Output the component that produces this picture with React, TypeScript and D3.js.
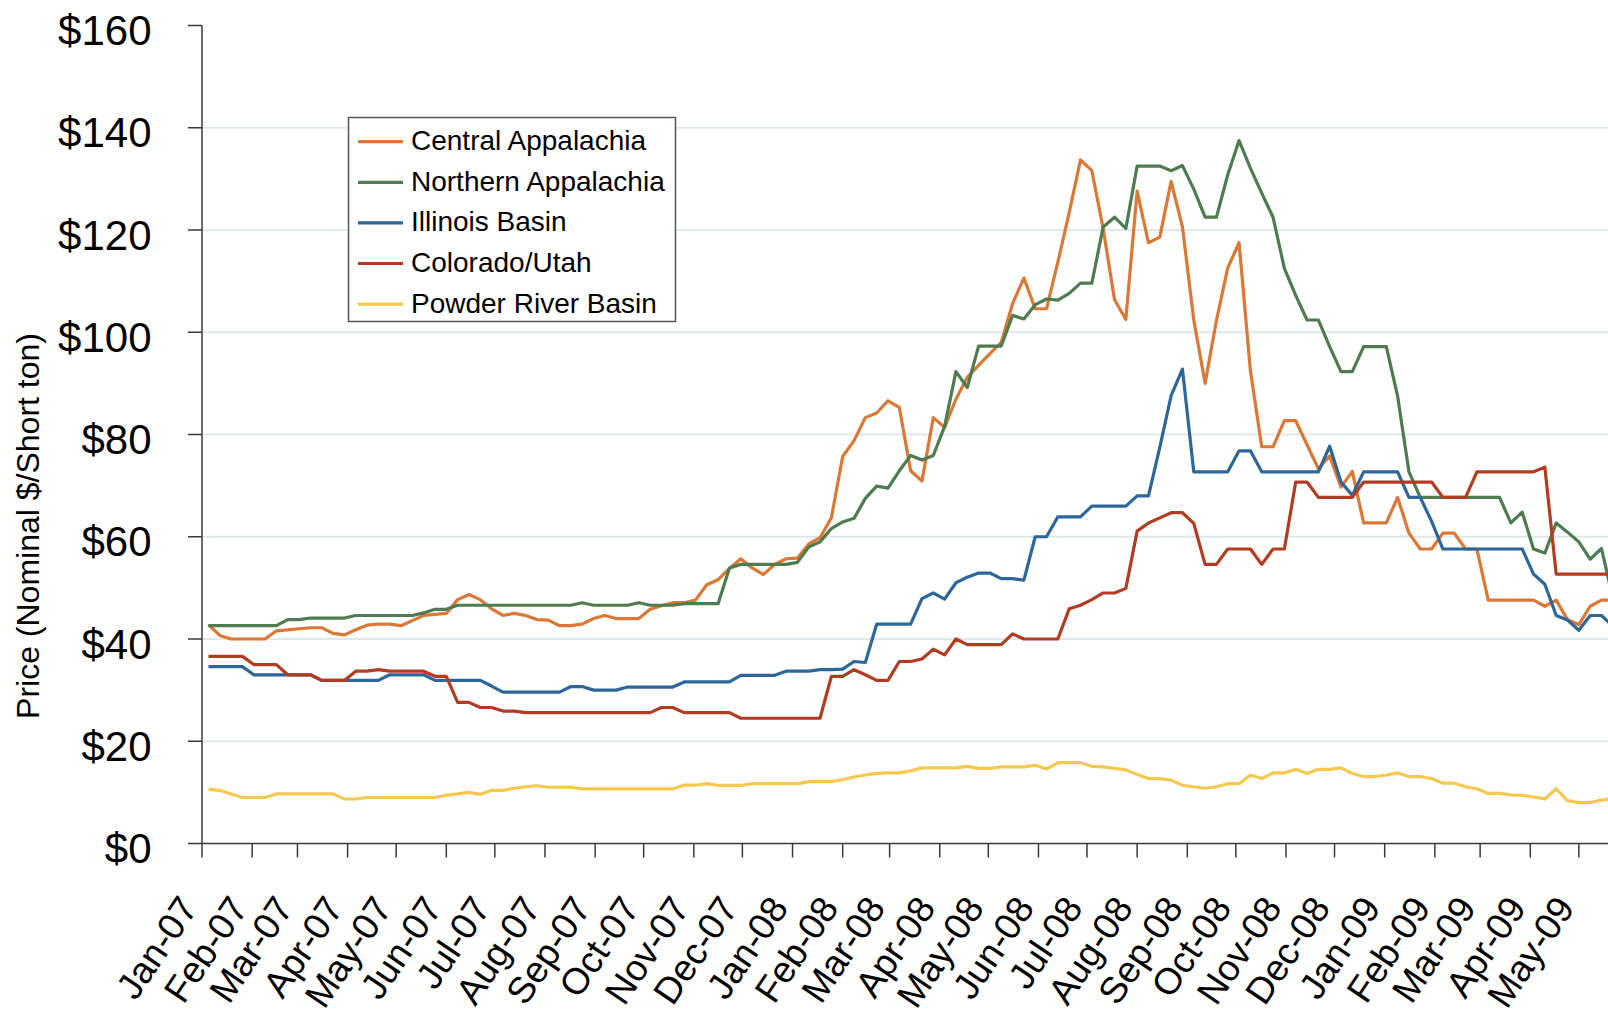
import React, { useEffect, useRef } from "react";
import * as d3 from "d3";

// weekly spot prices, week ending Fridays from 5 Jan 2007
const firstWeek = Date.UTC(2007, 0, 5);

const seriesNames = [
  "Central Appalachia",
  "Northern Appalachia",
  "Illinois Basin",
  "Colorado/Utah",
  "Powder River Basin",
];
const seriesColors = ["#DC7835", "#4E7B4F", "#2D6699", "#B23B22", "#F5C84F"];

const centralAppalachia = [
  42.8, 40.7, 40.0, 40.0, 40.0, 40.0, 41.6, 41.8, 42.0, 42.2,
  42.2, 41.1, 40.8, 41.8, 42.7, 42.9, 42.9, 42.6, 43.6, 44.6,
  44.8, 45.0, 47.7, 48.7, 47.7, 45.9, 44.6, 45.0, 44.6, 43.8,
  43.7, 42.6, 42.6, 42.9, 44.0, 44.6, 44.0, 44.0, 44.0, 45.8,
  46.5, 47.1, 47.1, 47.6, 50.6, 51.6, 53.8, 55.7, 53.9, 52.6,
  54.6, 55.7, 55.8, 58.6, 59.8, 63.7, 75.7, 78.8, 83.3, 84.2,
  86.6, 85.3, 72.9, 70.9, 83.3, 81.4, 86.9, 91.2, 93.5, 95.8,
  98.0, 105.6, 110.6, 104.6, 104.6, 113.7, 123.4, 133.7, 131.6, 120.3,
  106.4, 102.5, 127.6, 117.5, 118.6, 129.5, 120.6, 102.4, 90.0, 102.3,
  112.6, 117.5, 92.5, 77.6, 77.6, 82.7, 82.7, 78.0, 73.3, 75.8,
  69.7, 72.8, 62.7, 62.7, 62.7, 67.7, 60.7, 57.6, 57.6, 60.7,
  60.7, 57.6, 57.6, 47.6, 47.6, 47.6, 47.6, 47.6, 46.4, 47.6,
  43.8, 42.8, 46.4, 47.6, 47.6,
];

const northernAppalachia = [
  42.6, 42.6, 42.6, 42.6, 42.6, 42.6, 42.6, 43.8, 43.8, 44.1,
  44.1, 44.1, 44.1, 44.6, 44.6, 44.6, 44.6, 44.6, 44.6, 45.1,
  45.8, 45.8, 46.6, 46.6, 46.6, 46.6, 46.6, 46.6, 46.6, 46.6,
  46.6, 46.6, 46.6, 47.1, 46.6, 46.6, 46.6, 46.6, 47.1, 46.6,
  46.6, 46.6, 46.9, 46.9, 46.9, 46.9, 53.9, 54.6, 54.6, 54.6,
  54.6, 54.6, 55.0, 58.0, 59.0, 61.6, 62.9, 63.6, 67.5, 69.9,
  69.5, 72.9, 75.9, 75.0, 75.9, 81.6, 92.3, 89.2, 97.3, 97.3,
  97.3, 103.3, 102.6, 105.4, 106.5, 106.3, 107.6, 109.6, 109.6, 120.6,
  122.5, 120.3, 132.5, 132.5, 132.5, 131.6, 132.6, 128.0, 122.5, 122.5,
  130.8, 137.5, 132.1, 127.2, 122.5, 112.5, 107.2, 102.4, 102.4, 97.2,
  92.3, 92.3, 97.2, 97.2, 97.2, 87.5, 72.7, 67.7, 67.7, 67.7,
  67.7, 67.7, 67.7, 67.7, 67.7, 62.7, 64.8, 57.6, 56.8, 62.7,
  60.9, 59.0, 55.6, 57.7, 48.0,
];

const illinoisBasin = [
  34.6, 34.6, 34.6, 34.6, 33.0, 33.0, 33.0, 33.0, 33.0, 33.0,
  31.9, 31.9, 31.9, 31.9, 31.9, 31.9, 33.0, 33.0, 33.0, 33.0,
  31.9, 31.9, 31.9, 31.9, 31.9, 30.8, 29.6, 29.6, 29.6, 29.6,
  29.6, 29.6, 30.7, 30.7, 30.0, 30.0, 30.0, 30.6, 30.6, 30.6,
  30.6, 30.6, 31.6, 31.6, 31.6, 31.6, 31.6, 32.9, 32.9, 32.9,
  32.9, 33.7, 33.7, 33.7, 34.0, 34.0, 34.1, 35.6, 35.4, 42.9,
  42.9, 42.9, 42.9, 47.9, 49.0, 47.8, 51.0, 52.1, 52.9, 52.9,
  51.8, 51.8, 51.5, 60.0, 60.0, 63.9, 63.9, 63.9, 66.0, 66.0,
  66.0, 66.0, 68.0, 68.0, 77.5, 87.6, 92.8, 72.7, 72.7, 72.7,
  72.7, 76.8, 76.8, 72.7, 72.7, 72.7, 72.7, 72.7, 72.7, 77.7,
  70.7, 68.1, 72.7, 72.7, 72.7, 72.7, 67.7, 67.7, 63.0, 57.6,
  57.6, 57.6, 57.6, 57.6, 57.6, 57.6, 57.6, 52.7, 50.7, 44.6,
  43.7, 41.7, 44.6, 44.6, 42.5,
];

const coloradoUtah = [
  36.6, 36.6, 36.6, 36.6, 35.0, 35.0, 35.0, 33.0, 33.0, 33.0,
  31.9, 31.9, 31.9, 33.7, 33.7, 34.0, 33.7, 33.7, 33.7, 33.7,
  32.7, 32.7, 27.6, 27.6, 26.6, 26.6, 25.9, 25.9, 25.6, 25.6,
  25.6, 25.6, 25.6, 25.6, 25.6, 25.6, 25.6, 25.6, 25.6, 25.6,
  26.6, 26.6, 25.6, 25.6, 25.6, 25.6, 25.6, 24.5, 24.5, 24.5,
  24.5, 24.5, 24.5, 24.5, 24.5, 32.7, 32.7, 34.0, 33.0, 31.9,
  31.9, 35.6, 35.6, 36.1, 38.0, 36.9, 40.0, 38.9, 38.9, 38.9,
  38.9, 41.0, 40.0, 40.0, 40.0, 40.0, 45.9, 46.6, 47.7, 49.0,
  49.0, 49.9, 61.1, 62.7, 63.7, 64.7, 64.7, 62.6, 54.6, 54.6,
  57.6, 57.6, 57.6, 54.6, 57.6, 57.6, 70.7, 70.7, 67.7, 67.7,
  67.7, 67.7, 70.7, 70.7, 70.7, 70.7, 70.7, 70.7, 70.7, 67.7,
  67.7, 67.7, 72.7, 72.7, 72.7, 72.7, 72.7, 72.7, 73.6, 52.7,
  52.7, 52.7, 52.7, 52.7, 52.7,
];

const powderRiverBasin = [
  10.6, 10.4, 9.7, 9.0, 9.0, 9.0, 9.7, 9.7, 9.7, 9.7,
  9.7, 9.7, 8.7, 8.7, 9.0, 9.0, 9.0, 9.0, 9.0, 9.0,
  9.0, 9.4, 9.7, 10.0, 9.6, 10.4, 10.4, 10.8, 11.1, 11.3,
  11.0, 11.0, 11.0, 10.7, 10.7, 10.7, 10.7, 10.7, 10.7, 10.7,
  10.7, 10.7, 11.4, 11.4, 11.7, 11.35, 11.35, 11.35, 11.7, 11.7,
  11.7, 11.7, 11.7, 12.1, 12.1, 12.1, 12.5, 13.0, 13.4, 13.7,
  13.8, 13.8, 14.2, 14.8, 14.8, 14.8, 14.8, 15.1, 14.7, 14.7,
  15.0, 15.0, 15.0, 15.3, 14.6, 15.8, 15.8, 15.8, 15.1, 15.0,
  14.7, 14.4, 13.5, 12.7, 12.7, 12.4, 11.4, 11.1, 10.8, 11.1,
  11.7, 11.7, 13.4, 12.7, 13.8, 13.8, 14.5, 13.7, 14.5, 14.5,
  14.8, 13.7, 13.1, 13.1, 13.4, 13.8, 13.1, 13.1, 12.7, 11.8,
  11.8, 11.1, 10.7, 9.8, 9.8, 9.5, 9.4, 9.1, 8.7, 10.7,
  8.4, 8.0, 8.0, 8.5, 8.8,
];

const yTicks = [0, 20, 40, 60, 80, 100, 120, 140, 160];
const gridValues = [20, 40, 60, 80, 100, 120, 140];

const FONT = "'Liberation Sans', Arial, Helvetica, sans-serif";

export default function App() {
  const svgRef = useRef<SVGSVGElement>(null);

  useEffect(() => {
    const allSeries = [
      centralAppalachia,
      northernAppalachia,
      illinoisBasin,
      coloradoUtah,
      powderRiverBasin,
    ];

    const svg = d3.select(svgRef.current);
    svg.selectAll("*").remove();

    const axisStart = new Date(Date.UTC(2007, 0, 1));
    const axisEnd = new Date(Date.UTC(2009, 5, 1));
    const pxPerDay = 1.6179;
    const xLeft = 202;
    const xScale = d3
      .scaleUtc()
      .domain([axisStart, axisEnd])
      .range([xLeft, xLeft + 882 * pxPerDay]);

    const yScale = d3.scaleLinear().domain([0, 160]).range([843.5, 25.5]);

    const weekDate = (i: number) => new Date(firstWeek + i * 7 * 86400000);

    // gridlines
    svg
      .append("g")
      .selectAll("line")
      .data(gridValues)
      .enter()
      .append("line")
      .attr("x1", xLeft)
      .attr("x2", 1608)
      .attr("y1", (d) => yScale(d))
      .attr("y2", (d) => yScale(d))
      .attr("stroke", "#dfe8ea")
      .attr("stroke-width", 2);

    // y axis
    const yAxis = svg.append("g");
    yAxis
      .append("line")
      .attr("x1", xLeft)
      .attr("x2", xLeft)
      .attr("y1", yScale(160))
      .attr("y2", yScale(0))
      .attr("stroke", "#3a3a3a")
      .attr("stroke-width", 1.5);
    yAxis
      .selectAll(".ytick")
      .data(yTicks)
      .enter()
      .append("line")
      .attr("x1", xLeft - 14)
      .attr("x2", xLeft)
      .attr("y1", (d) => yScale(d))
      .attr("y2", (d) => yScale(d))
      .attr("stroke", "#3a3a3a")
      .attr("stroke-width", 1.5);
    yAxis
      .selectAll(".ylabel")
      .data(yTicks)
      .enter()
      .append("text")
      .attr("x", 151.5)
      .attr("y", (d) => yScale(d) + 19.5)
      .attr("text-anchor", "end")
      .style("font-family", FONT)
      .style("font-size", "42px")
      .attr("fill", "#000")
      .text((d) => `$${d}`);

    svg
      .append("text")
      .attr("transform", `translate(39, 526) rotate(-90)`)
      .attr("text-anchor", "middle")
      .style("font-family", FONT)
      .style("font-size", "32px")
      .attr("fill", "#000")
      .text("Price (Nominal $/Short ton)");

    // x axis
    const months = d3.utcMonth.range(axisStart, axisEnd);
    const xAxis = svg.append("g");
    xAxis
      .append("line")
      .attr("x1", xLeft)
      .attr("x2", 1640)
      .attr("y1", yScale(0))
      .attr("y2", yScale(0))
      .attr("stroke", "#3a3a3a")
      .attr("stroke-width", 1.5);
    xAxis
      .selectAll(".xtick")
      .data(months)
      .enter()
      .append("line")
      .attr("x1", (d) => xScale(d))
      .attr("x2", (d) => xScale(d))
      .attr("y1", yScale(0))
      .attr("y2", yScale(0) + 14)
      .attr("stroke", "#3a3a3a")
      .attr("stroke-width", 1.5);
    const fmt = d3.utcFormat("%b-%y");
    xAxis
      .selectAll(".xlabel")
      .data(months)
      .enter()
      .append("text")
      .attr("transform", (d) => `translate(${xScale(d) - 3}, 908) rotate(-56)`)
      .attr("text-anchor", "end")
      .style("font-family", FONT)
      .style("font-size", "37px")
      .attr("fill", "#000")
      .text((d) => fmt(d));

    // series lines
    const line = d3
      .line<number>()
      .x((d, i) => xScale(weekDate(i)))
      .y((d) => yScale(d));

    svg
      .append("g")
      .selectAll("path")
      .data(allSeries)
      .enter()
      .append("path")
      .attr("d", (d) => line(d))
      .attr("fill", "none")
      .attr("stroke", (d, i) => seriesColors[i])
      .attr("stroke-width", 3.2)
      .attr("stroke-linejoin", "round");

    // legend
    const legend = svg.append("g");
    legend
      .append("rect")
      .attr("x", 348.5)
      .attr("y", 117.5)
      .attr("width", 327)
      .attr("height", 204)
      .attr("fill", "#fff")
      .attr("stroke", "#555")
      .attr("stroke-width", 1.5);

    const items = legend
      .selectAll(".item")
      .data(seriesNames)
      .enter()
      .append("g")
      .attr("transform", (d, i) => `translate(0, ${141.7 + i * 40.6})`);
    items
      .append("line")
      .attr("x1", 358)
      .attr("x2", 403)
      .attr("y1", 0)
      .attr("y2", 0)
      .attr("stroke", (d, i) => seriesColors[i])
      .attr("stroke-width", 3.2);
    items
      .append("text")
      .attr("x", 411)
      .attr("y", 8.5)
      .style("font-family", FONT)
      .style("font-size", "28px")
      .attr("fill", "#000")
      .text((d) => d);
  }, []);

  return (
    <svg
      ref={svgRef}
      width={1608}
      height={1016}
      style={{ position: "absolute", left: 0, top: 0, background: "#fff" }}
    />
  );
}
